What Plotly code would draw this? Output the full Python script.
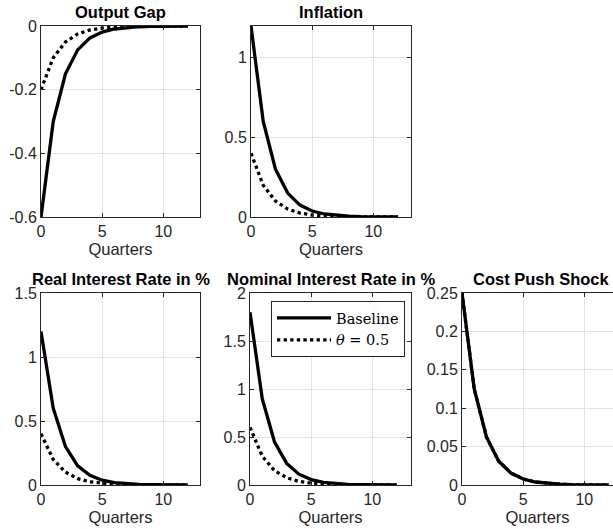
import plotly.graph_objects as go

W, H = 613, 529

quarters = [0, 1, 2, 3, 4, 5, 6, 7, 8, 9, 10, 11, 12]

output_gap_base = [-0.6, -0.3, -0.15, -0.075, -0.0375, -0.019, -0.0094, -0.0047, -0.0023, -0.0012, -0.0006, -0.0003, -0.0001]
output_gap_theta = [-0.2, -0.1, -0.05, -0.025, -0.0125, -0.0063, -0.0031, -0.0016, -0.0008, -0.0004, -0.0002, -0.0001, 0.0]

inflation_base = [1.2, 0.6, 0.3, 0.15, 0.075, 0.0375, 0.019, 0.0094, 0.0047, 0.0023, 0.0012, 0.0006, 0.0003]
inflation_theta = [0.4, 0.2, 0.1, 0.05, 0.025, 0.0125, 0.0063, 0.0031, 0.0016, 0.0008, 0.0004, 0.0002, 0.0001]

real_rate_base = [1.2, 0.6, 0.3, 0.15, 0.075, 0.0375, 0.019, 0.0094, 0.0047, 0.0023, 0.0012, 0.0006, 0.0003]
real_rate_theta = [0.4, 0.2, 0.1, 0.05, 0.025, 0.0125, 0.0063, 0.0031, 0.0016, 0.0008, 0.0004, 0.0002, 0.0001]

nominal_rate_base = [1.8, 0.9, 0.45, 0.225, 0.1125, 0.056, 0.028, 0.014, 0.007, 0.0035, 0.0018, 0.0009, 0.0004]
nominal_rate_theta = [0.6, 0.3, 0.15, 0.075, 0.0375, 0.019, 0.0094, 0.0047, 0.0023, 0.0012, 0.0006, 0.0003, 0.0001]

cost_push_base = [0.25, 0.125, 0.0625, 0.031, 0.0156, 0.0078, 0.0039, 0.002, 0.001, 0.0005, 0.0002, 0.0001, 0.0001]
cost_push_theta = [0.25, 0.125, 0.0625, 0.031, 0.0156, 0.0078, 0.0039, 0.002, 0.001, 0.0005, 0.0002, 0.0001, 0.0001]

titles = ["Output Gap", "Inflation", "Real Interest Rate in %", "Nominal Interest Rate in %", "Cost Push Shock"]
x_ticks = [0, 5, 10]
y_ticks = [
    [-0.6, -0.4, -0.2, 0],
    [0, 0.5, 1],
    [0, 0.5, 1, 1.5],
    [0, 0.5, 1, 1.5, 2],
    [0, 0.05, 0.1, 0.15, 0.2, 0.25],
]
y_tick_text = [
    ["-0.6", "-0.4", "-0.2", "0"],
    ["0", "0.5", "1"],
    ["0", "0.5", "1", "1.5"],
    ["0", "0.5", "1", "1.5", "2"],
    ["0", "0.05", "0.1", "0.15", "0.2", "0.25"],
]
y_ranges = [[-0.6, 0], [0, 1.2], [0, 1.5], [0, 2], [0, 0.25]]

series = [
    (output_gap_base, output_gap_theta),
    (inflation_base, inflation_theta),
    (real_rate_base, real_rate_theta),
    (nominal_rate_base, nominal_rate_theta),
    (cost_push_base, cost_push_theta),
]

# pixel boxes (left, right, top, bottom)
boxes = [
    (41, 200, 26, 217),
    (251, 411, 26, 217),
    (41, 200, 293, 485),
    (250, 411, 293, 485),
    (462, 613, 293, 485),
]
px_per_q = (200 - 41) / 13.0

AX = "#262626"
GRID = "#e3e3e3"
FONT = "Liberation Sans, Arial, sans-serif"

fig = go.Figure()
layout = dict(
    width=W, height=H, autosize=False,
    margin=dict(l=0, r=0, t=0, b=0, pad=0, autoexpand=False),
    paper_bgcolor="white", plot_bgcolor="white",
    showlegend=True,
    font=dict(family=FONT, color=AX, size=16),
)
annotations = []

for i in range(5):
    n = i + 1
    xa = "x" if n == 1 else f"x{n}"
    ya = "y" if n == 1 else f"y{n}"
    base, theta = series[i]
    fig.add_trace(go.Scatter(
        x=quarters, y=theta, mode="lines", xaxis=xa, yaxis=ya,
        line=dict(color="black", width=3.3, dash="dot"),
        name="<i>θ</i> = 0.5", showlegend=(i == 3), legendrank=2,
    ))
    fig.add_trace(go.Scatter(
        x=quarters, y=base, mode="lines", xaxis=xa, yaxis=ya,
        line=dict(color="black", width=3.3),
        name="Baseline", showlegend=(i == 3), legendrank=1,
    ))
    l, r, t, b = boxes[i]
    xmax = (r - l) / px_per_q
    mirror = "ticks" if i != 4 else False
    layout["xaxis" if n == 1 else f"xaxis{n}"] = dict(
        domain=[l / W, r / W], anchor=ya, range=[0, xmax], automargin=False,
        tickvals=x_ticks, ticktext=[str(v) for v in x_ticks],
        ticks="inside", ticklen=4, tickcolor=AX, tickwidth=1,
        showline=True, linecolor=AX, linewidth=1, mirror="ticks",
        showgrid=True, gridcolor=GRID, gridwidth=1, zeroline=False,
        tickfont=dict(size=16, color=AX, family=FONT),
        title=dict(text="Quarters", font=dict(size=16.5, color=AX, family=FONT), standoff=2),
        fixedrange=True,
    )
    layout["yaxis" if n == 1 else f"yaxis{n}"] = dict(
        domain=[1 - b / H, 1 - t / H], anchor=xa, range=y_ranges[i], automargin=False,
        tickvals=y_ticks[i], ticktext=y_tick_text[i],
        ticks="inside", ticklen=4, tickcolor=AX, tickwidth=1,
        showline=True, linecolor=AX, linewidth=1, mirror=mirror,
        showgrid=True, gridcolor=GRID, gridwidth=1, zeroline=False,
        tickfont=dict(size=16, color=AX, family=FONT),
        fixedrange=True,
    )
    annotations.append(dict(
        text=f"<b>{titles[i]}</b>", x=(l + (l + 13 * px_per_q)) / 2 / W if i == 4 else (l + r) / 2 / W,
        y=1 - (t - 3) / H, xref="paper", yref="paper",
        xanchor="center", yanchor="bottom", showarrow=False,
        font=dict(size=16.5, color="black", family=FONT),
    ))

layout["annotations"] = annotations
layout["legend"] = dict(
    x=271 / W, y=1 - 301 / H, xanchor="left", yanchor="top",
    bgcolor="white", bordercolor=AX, borderwidth=1,
    font=dict(family="DejaVu Serif, Liberation Serif, serif", size=14.5, color="black"),
    itemwidth=54, tracegroupgap=0,
)
fig.update_layout(**layout)
fig.write_html(
    "out.html",
    config={"displayModeBar": False},
    post_script="document.body.style.margin='0';document.body.style.overflow='hidden';",
)
